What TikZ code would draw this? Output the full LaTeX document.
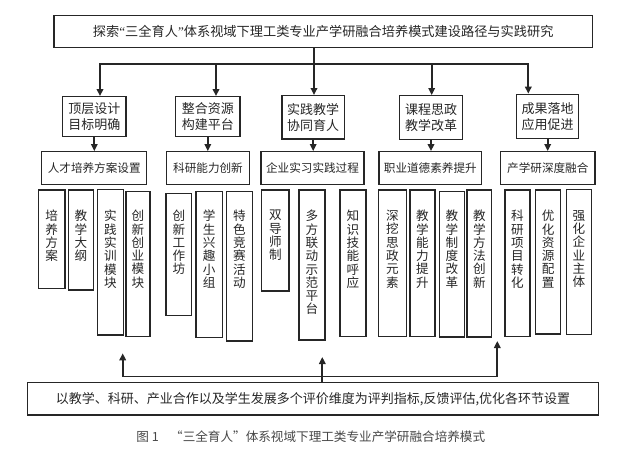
\documentclass[tikz,border=0pt]{standalone}
\usepackage{fontspec}
\setmainfont{Noto Sans CJK SC}
\newfontfamily\latq{Liberation Serif}
\usetikzlibrary{arrows.meta}
\definecolor{ink}{HTML}{262626}
\newcommand\vbx[6]{%
  \node[vbox, minimum width={#3-#2}, minimum height={#5-#4}] (#1) at ({(#2+#3)/2},{(#4+#5)/2}) {};
  \node[vtxt] (#1t) at ({(#2+#3)/2},210) {#6};}
\begin{document}
\begin{tikzpicture}[x=1pt,y=-1pt,
  box/.style={draw=ink, line width=1.3, inner sep=0, text=ink},
  topbox/.style={box, font=\fontsize{13.2}{16}\selectfont},
  lvtwo/.style={box, align=center, font=\fontsize{13}{16}\selectfont},
  lvthree/.style={box, font=\fontsize{11.6}{14}\selectfont},
  vbox/.style={draw=ink, line width=1.2, inner sep=0},
  vtxt/.style={anchor=north, inner sep=0, align=center, text=ink, font=\fontsize{12.6}{13.3}\selectfont},
  ln/.style={draw=ink, line width=1.7, line join=miter},
  arr/.style={ln, -{Triangle[width=6.5pt,length=7pt]}},
  darr/.style={ln, {Triangle[width=6.5pt,length=7pt]}-{Triangle[width=6.5pt,length=7pt]}}
]
\useasboundingbox (0,0) rectangle (620,463);
% top
\node[topbox, minimum width=538.3, minimum height=32] (top) at (323.2,31.7)
  {探索{\latq “}三全育人{\latq ”}体系视域下理工类专业产学研融合培养模式建设路径与实践研究};
% level 2
\node[lvtwo, minimum width=63.3, minimum height=40] (B1) at (94.3,116.7) {顶层设计\\目标明确};
\node[lvtwo, minimum width=64.3, minimum height=40] (B2) at (207.8,116.7) {整合资源\\构建平台};
\node[lvtwo, minimum width=62.3, minimum height=43.3] (B3) at (313.2,117.3) {实践教学\\协同育人};
\node[lvtwo, minimum width=63.3, minimum height=43.6] (B4) at (431,117.5) {课程思政\\教学改革};
\node[lvtwo, minimum width=62, minimum height=44] (B5) at (547.7,116.3) {成果落地\\应用促进};
% level 3
\node[lvthree, minimum width=105, minimum height=32.6] (C1) at (94.2,168) {人才培养方案设置};
\node[lvthree, minimum width=82.6, minimum height=32.6] (C2) at (208,168) {科研能力创新};
\node[lvthree, minimum width=103, minimum height=32.6] (C3) at (312.5,168) {企业实习实践过程};
\node[lvthree, minimum width=102.7, minimum height=32.6] (C4) at (430.3,168) {职业道德素养提升};
\node[lvthree, minimum width=94.3, minimum height=32.6] (C5) at (547.8,168) {产学研深度融合};
% connectors top
\coordinate (jl) at (100,64);
\coordinate (j2) at (216,64);
\coordinate (jc) at (314,64);
\coordinate (j4) at (431.7,64);
\coordinate (jr) at (528.3,64);
\draw[ln] (jc |- top.south) -- (jc);
\draw[darr] (jl |- B1.north) -- (jl) -- (jr) -- (jr |- B5.north);
\draw[arr] (j2) -- (j2 |- B2.north);
\draw[arr] (jc) -- (jc |- B3.north);
\draw[arr] (j4) -- (j4 |- B4.north);
\foreach \i in {1,...,5} \draw[arr] (B\i.south) -- (B\i.south |- C\i.north);
% vertical boxes
\vbx{a}{38.3}{65}{190}{288.3}{培\\养\\方\\案}
\vbx{b}{68.3}{93.3}{190}{290}{教\\学\\大\\纲}
\vbx{c}{97.7}{123.3}{189.3}{335}{实\\践\\实\\训\\模\\块}
\vbx{d}{126}{150}{191.7}{336.7}{创\\新\\创\\业\\模\\块}
\vbx{e}{166}{191.7}{193.3}{315.7}{创\\新\\工\\作\\坊}
\vbx{f}{196}{222.3}{191.7}{337.7}{学\\生\\兴\\趣\\小\\组}
\vbx{g}{226.7}{252.3}{191.7}{341}{特\\色\\竞\\赛\\活\\动}
\vbx{h}{261.7}{289}{190}{291}{双\\导\\师\\制}
\vbx{i}{299}{325}{190}{340}{多\\方\\联\\动\\示\\范\\平\\台}
\vbx{j}{340}{366}{190}{336.7}{知\\识\\技\\能\\呼\\应}
\vbx{k}{378.5}{406.5}{190}{336.7}{深\\挖\\思\\政\\元\\素}
\vbx{l}{410}{435}{190}{336.7}{教\\学\\能\\力\\提\\升}
\vbx{m}{439.3}{464.3}{191.7}{337}{教\\学\\制\\度\\改\\革}
\vbx{n}{467}{491.7}{190}{337}{教\\学\\方\\法\\创\\新}
\vbx{o}{505}{530}{190}{336.7}{科\\研\\项\\目\\转\\化}
\vbx{p}{535.5}{560.7}{190}{334}{优\\化\\资\\源\\配\\置}
\vbx{q}{566.3}{591.5}{189.3}{334.3}{强\\化\\企\\业\\主\\体}
% bottom
\node[box, minimum width=570.6, minimum height=32.3, font=\fontsize{13}{15}\selectfont] (bot) at (313,398.8)
  {以教学、科研、产业合作以及学生发展多个评价维度为评判指标,反馈评估,优化各环节设置};
\coordinate (fl) at (122.7,376.5);
\coordinate (fm) at (322.3,376.5);
\coordinate (fr) at (497.3,376.5);
\coordinate (tl) at (122.7,353.3);
\coordinate (tm) at (322.3,357);
\coordinate (tr) at (497.3,341);
\draw[darr] (tl) -- (fl) -- (fr) -- (tr);
\draw[arr] (fm |- bot.north) -- (tm);
% caption
\node[inner sep=0, text=ink!85, font=\fontsize{12.6}{14}\selectfont] (cap) at (310.8,436.7)
  {图 1\hspace{0.9em}“三全育人”体系视域下理工类专业产学研融合培养模式};
\end{tikzpicture}
\end{document}
